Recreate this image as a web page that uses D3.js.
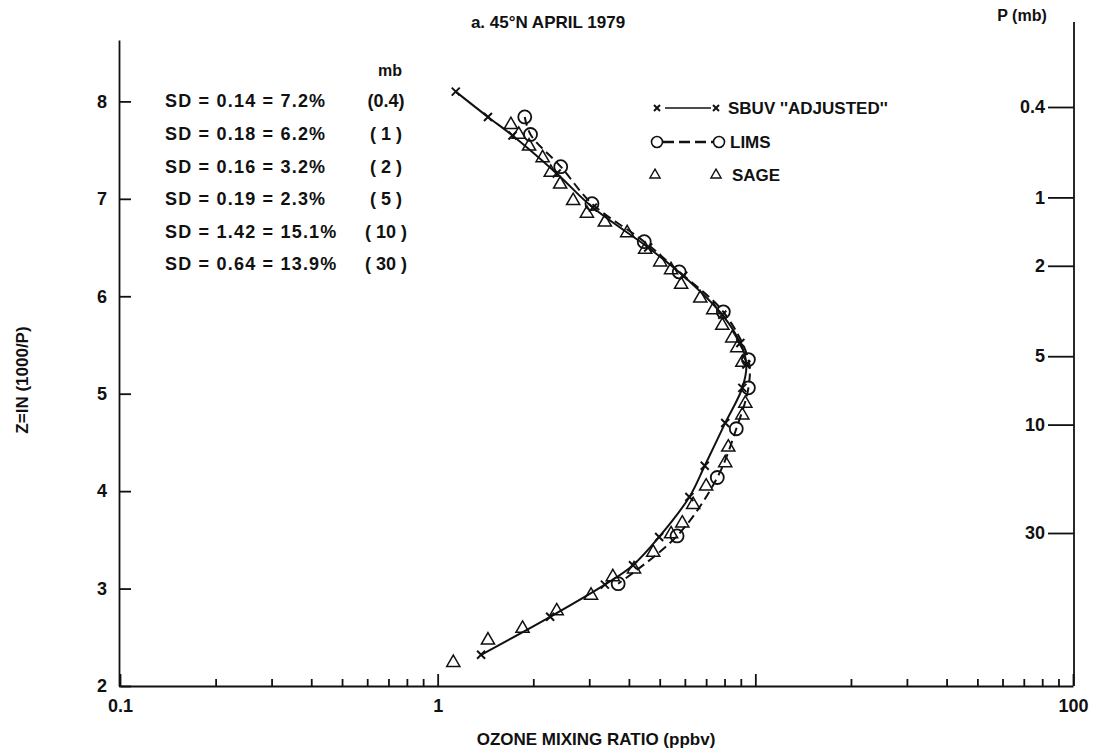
<!DOCTYPE html>
<html>
<head>
<meta charset="utf-8">
<title>Ozone profile 45N April 1979</title>
<script src="https://cdn.jsdelivr.net/npm/d3@7"></script>
<style>
  body { margin: 0; background: #fff; }
  text { font-family: "Liberation Sans", Arial, sans-serif; font-weight: bold; fill: #111; }
</style>
</head>
<body>
<svg width="1103" height="755"></svg>
<script>
// SBUV "adjusted" profile (Z = ln(1000/P), mixing ratio)
var sbuvZ = [8.10, 7.84, 7.65, 7.26, 6.91, 6.50, 6.21, 5.81, 5.52, 5.30, 5.06, 4.70, 4.26, 3.94, 3.53, 3.24, 3.04, 2.71, 2.32];
var sbuvV = [1.14, 1.44, 1.72, 2.37, 3.08, 4.60, 5.93, 7.87, 8.97, 9.37, 9.10, 8.04, 6.93, 6.20, 4.98, 4.12, 3.36, 2.26, 1.37];

// LIMS profile
var limsZ = [7.84, 7.66, 7.33, 6.95, 6.56, 6.25, 5.84, 5.35, 5.06, 4.64, 4.14, 3.54, 3.05];
var limsV = [1.88, 1.96, 2.44, 3.06, 4.47, 5.76, 7.93, 9.51, 9.51, 8.71, 7.59, 5.67, 3.70];

// SAGE points
var sageZ = [7.76, 7.66, 7.54, 7.42, 7.27, 7.15, 6.98, 6.85, 6.76, 6.65, 6.48, 6.35, 6.27, 6.12, 5.98, 5.86, 5.70, 5.57, 5.47, 5.32,
             4.90, 4.78, 4.45, 4.29, 4.05, 3.86, 3.67, 3.56, 3.37, 3.20, 3.12, 2.93, 2.77, 2.59, 2.47, 2.24];
var sageV = [1.70, 1.80, 1.94, 2.14, 2.27, 2.43, 2.67, 2.95, 3.36, 3.95, 4.50, 5.02, 5.43, 5.84, 6.71, 7.37, 7.87, 8.46, 8.77, 9.10,
             9.30, 9.10, 8.22, 8.04, 7.00, 6.37, 5.89, 5.43, 4.77, 4.15, 3.56, 3.04, 2.37, 1.85, 1.44, 1.12];

var sdText = ["SD = 0.14 = 7.2%", "SD = 0.18 = 6.2%", "SD = 0.16 = 3.2%", "SD = 0.19 = 2.3%", "SD = 1.42 = 15.1%", "SD = 0.64 = 13.9%"];
var sdLevel = ["(0.4)", "( 1 )", "( 2 )", "( 5 )", "( 10 )", "( 30 )"];

var zTicks = [2, 3, 4, 5, 6, 7, 8];
var pTicks = [0.4, 1, 2, 5, 10, 30];
var xLabelled = [0.1, 1, 100];

var svg = d3.select("svg");

var x = d3.scaleLog().domain([0.1, 100]).range([120, 1073]);
var y = d3.scaleLinear().domain([2, 8.63]).range([686, 40]);
var yP = d3.scaleLog().domain([0.4, 30]).range([107, 533]);

var sbuv = sbuvZ.map(function(z, i) { return {z: z, v: sbuvV[i]}; });
var lims = limsZ.map(function(z, i) { return {z: z, v: limsV[i]}; });
var sage = sageZ.map(function(z, i) { return {z: z, v: sageV[i]}; });

// axes
var minor = [];
[0.1, 1, 10].forEach(function(d) { for (var k = 2; k <= 9; k++) minor.push(d * k); });

svg.append("g")
    .attr("transform", "translate(0,686)")
    .call(d3.axisBottom(x).tickValues(minor).tickSizeInner(-7).tickSizeOuter(0).tickFormat(""))
    .call(function(g) { g.select(".domain").remove(); });

svg.append("g")
    .attr("transform", "translate(0,686)")
    .call(d3.axisBottom(x).tickValues([0.1, 1, 10, 100]).tickSizeInner(-12).tickSizeOuter(0).tickPadding(13)
      .tickFormat(function(d) { return xLabelled.indexOf(d) >= 0 ? String(d) : ""; }));

svg.append("g")
    .attr("transform", "translate(119,0)")
    .call(d3.axisLeft(y).tickValues(zTicks).tickSizeInner(-12).tickSizeOuter(0).tickPadding(12).tickFormat(d3.format("d")));

svg.append("g")
    .attr("transform", "translate(1074,0)")
    .call(d3.axisLeft(yP).tickValues(pTicks).tickSizeInner(26).tickSizeOuter(0).tickPadding(3).tickFormat(String))
    .call(function(g) { g.select(".domain").remove(); });

svg.append("line").attr("x1", 1074).attr("x2", 1074).attr("y1", 22).attr("y2", 686)
    .attr("stroke", "#111").attr("stroke-width", 1.8);

svg.selectAll(".tick line").attr("stroke", "#111").attr("stroke-width", 1.8);
svg.selectAll(".domain").attr("stroke", "#111").attr("stroke-width", 1.8);
svg.selectAll(".tick text").style("font-size", "18px").attr("fill", "#111");

// titles
svg.append("text").attr("x", 548).attr("y", 28).attr("text-anchor", "middle")
    .style("font-size", "17px").text("a. 45\u00B0N APRIL 1979");
svg.append("text").attr("x", 1022).attr("y", 21).attr("text-anchor", "middle")
    .style("font-size", "16px").text("P (mb)");
svg.append("text").attr("x", 596).attr("y", 745).attr("text-anchor", "middle")
    .style("font-size", "17px").text("OZONE MIXING RATIO (ppbv)");
svg.append("text").attr("transform", "translate(28,380) rotate(-90)").attr("text-anchor", "middle")
    .style("font-size", "17px").text("Z=IN (1000/P)");

// SD table
svg.append("text").attr("x", 390).attr("y", 76).attr("text-anchor", "middle")
    .style("font-size", "16px").text("mb");
svg.selectAll(".sd").data(sdText).enter().append("text")
    .attr("x", 165).attr("y", function(d, i) { return y(8) + 6 + i * 32.6; })
    .style("font-size", "18px").style("letter-spacing", "1.2px").text(function(d) { return d; });
svg.selectAll(".sdl").data(sdLevel).enter().append("text")
    .attr("x", 386).attr("y", function(d, i) { return y(8) + 6 + i * 32.6; })
    .attr("text-anchor", "middle").style("font-size", "18px").text(function(d) { return d; });

// curves
var line = d3.line()
    .x(function(d) { return x(d.v); })
    .y(function(d) { return y(d.z); })
    .curve(d3.curveCatmullRom);

svg.append("path").datum(lims).attr("d", line).attr("fill", "none")
    .attr("stroke", "#111").attr("stroke-width", 2).attr("stroke-dasharray", "9,5");
svg.append("path").datum(sbuv).attr("d", line).attr("fill", "none")
    .attr("stroke", "#111").attr("stroke-width", 2);

function cross(sel, s) {
  sel.append("path")
    .attr("d", "M" + (-s) + "," + (-s) + "L" + s + "," + s + "M" + (-s) + "," + s + "L" + s + "," + (-s))
    .attr("stroke", "#111").attr("stroke-width", 2).attr("fill", "none");
}

svg.selectAll(".sb").data(sbuv).enter().append("g")
    .attr("transform", function(d) { return "translate(" + x(d.v) + "," + y(d.z) + ")"; })
    .call(cross, 4);

svg.selectAll(".li").data(lims).enter().append("circle")
    .attr("cx", function(d) { return x(d.v); })
    .attr("cy", function(d) { return y(d.z); })
    .attr("r", 6.5).attr("fill", "none").attr("stroke", "#111").attr("stroke-width", 1.8);

var tri = d3.symbol().type(d3.symbolTriangle).size(75);
svg.selectAll(".sa").data(sage).enter().append("path")
    .attr("d", tri)
    .attr("transform", function(d) { return "translate(" + x(d.v) + "," + y(d.z) + ")"; })
    .attr("fill", "none").attr("stroke", "#111").attr("stroke-width", 1.5);

// legend
var legend = svg.append("g");
var r1 = 108, r2 = 142, r3 = 175;
legend.append("g").attr("transform", "translate(657," + r1 + ")").call(cross, 3);
legend.append("g").attr("transform", "translate(716," + r1 + ")").call(cross, 3);
legend.append("line").attr("x1", 665).attr("x2", 711).attr("y1", r1).attr("y2", r1)
    .attr("stroke", "#111").attr("stroke-width", 1.4);
legend.append("text").attr("x", 728).attr("y", r1 + 6).style("font-size", "17px").text("SBUV ''ADJUSTED''");

legend.append("circle").attr("cx", 657).attr("cy", r2).attr("r", 5.5).attr("fill", "none").attr("stroke", "#111").attr("stroke-width", 1.6);
legend.append("circle").attr("cx", 719).attr("cy", r2).attr("r", 5.5).attr("fill", "none").attr("stroke", "#111").attr("stroke-width", 1.6);
legend.append("line").attr("x1", 663).attr("x2", 713).attr("y1", r2).attr("y2", r2)
    .attr("stroke", "#111").attr("stroke-width", 2.5).attr("stroke-dasharray", "11,5");
legend.append("text").attr("x", 730).attr("y", r2 + 6).style("font-size", "17px").text("LIMS");

legend.append("path").attr("d", d3.symbol().type(d3.symbolTriangle).size(45))
    .attr("transform", "translate(655," + r3 + ")").attr("fill", "none").attr("stroke", "#111").attr("stroke-width", 1.4);
legend.append("path").attr("d", d3.symbol().type(d3.symbolTriangle).size(45))
    .attr("transform", "translate(716," + r3 + ")").attr("fill", "none").attr("stroke", "#111").attr("stroke-width", 1.4);
legend.append("text").attr("x", 732).attr("y", r3 + 6).style("font-size", "17px").text("SAGE");
</script>
</body>
</html>
